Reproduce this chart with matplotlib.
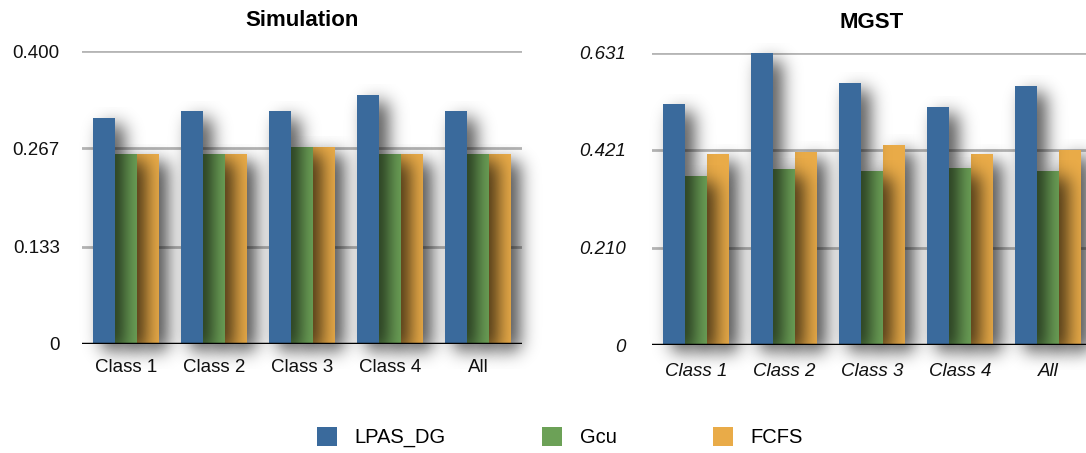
import math
import numpy as np
import matplotlib
matplotlib.use("Agg")
import matplotlib.pyplot as plt
from matplotlib.patches import Patch

plt.rcParams['font.family'] = ['Liberation Sans', 'DejaVu Sans']

# data
categories = ['Class 1', 'Class 2', 'Class 3', 'Class 4', 'All']
series = ['LPAS_DG', 'Gcu', 'FCFS']
colors = ['#3a6a9c', '#6ca157', '#e9ab48']

sim_vals = [
    [0.309, 0.318, 0.318, 0.340, 0.318],   # LPAS_DG
    [0.259, 0.259, 0.269, 0.259, 0.259],   # Gcu
    [0.259, 0.259, 0.269, 0.259, 0.259],   # FCFS
]
mgst_vals = [
    [0.520, 0.630, 0.566, 0.514, 0.559],
    [0.365, 0.380, 0.376, 0.382, 0.376],
    [0.412, 0.417, 0.432, 0.412, 0.421],
]
sim_ticks = [0, 0.133, 0.267, 0.400]
sim_ticklabels = ['0', '0.133', '0.267', '0.400']
mgst_ticks = [0, 0.210, 0.421, 0.631]
mgst_ticklabels = ['0', '0.210', '0.421', '0.631']

W, H = 1086, 453
fig = plt.figure(figsize=(W / 100, H / 100), dpi=100)

erf = np.vectorize(math.erf)


def phi(z):
    return 0.5 * (1 + erf(z / math.sqrt(2)))


def shadow(ax, left, right, top, pxx, pxy, z):
    # soft drop shadow: blurred copy of the bar shifted right and down
    dx, dy, s, a0 = 9, 7, 9, 0.72
    x = np.linspace(left - 30 * pxx, right + 45 * pxx, 90)
    y = np.linspace(-25 * pxy, top + 10 * pxy, 120)
    fx = phi((x - (left + dx * pxx)) / (s * pxx)) - phi((x - (right + dx * pxx)) / (s * pxx))
    fy = phi((y + dy * pxy) / (s * pxy)) - phi((y - (top - dy * pxy)) / (s * pxy))
    a = a0 * np.outer(fy, fx)
    img = np.zeros((len(y), len(x), 4))
    img[..., 3] = a
    ax.imshow(img[::-1], extent=(x[0], x[-1], y[0], y[-1]), aspect='auto',
              interpolation='bilinear', zorder=z, clip_on=False)


def panel(rect, vals, ymax, ticks, ticklabels, title, italic, ypad, xpad):
    ax = fig.add_axes(rect)
    ax.set_facecolor('white')
    width = 0.25
    x = np.arange(len(categories))
    pxx = 1 / 88.0
    pxy = ymax / 293.0
    for t in ticks[1:]:
        ax.axhline(t, color='#b5b5b5', lw=2, zorder=0.5)
    # draw right-most series first so each shadow falls on its neighbour
    for k in [2, 1, 0]:
        offs = (k - 1) * width
        for i, v in enumerate(vals[k]):
            shadow(ax, x[i] + offs - width / 2, x[i] + offs + width / 2, v, pxx, pxy, 2 + 2 * (2 - k))
        ax.bar(x + offs, vals[k], width, color=colors[k], zorder=3 + 2 * (2 - k), linewidth=0)
    ax.axhline(0, color='black', lw=2.5, zorder=10)
    ax.set_xlim(-0.5, len(categories) - 0.5)
    ax.set_ylim(0, ymax)
    style = 'italic' if italic else 'normal'
    ax.set_yticks(ticks)
    ax.set_yticklabels(ticklabels, fontsize=13.5, style=style, color='#111111')
    ax.set_xticks(x)
    ax.set_xticklabels(categories, fontsize=13.5, style=style, color='#111111')
    ax.tick_params(axis='y', length=0, pad=ypad)
    ax.tick_params(axis='x', length=0, pad=xpad)
    for sp in ax.spines.values():
        sp.set_visible(False)
    ax.set_title(title, fontsize=16, fontweight='bold', pad=18)
    return ax


panel([82 / W, 1 - 344 / H, 440 / W, 293 / H], sim_vals, 0.4,
      sim_ticks, sim_ticklabels, 'Simulation', False, 16, 11)
panel([652 / W, 1 - 345 / H, 440 / W, 292.5 / H], mgst_vals, 0.631,
      mgst_ticks, mgst_ticklabels, 'MGST', True, 19, 13)

handles = [Patch(facecolor=c, edgecolor='none') for c in colors]
fig.legend(handles, series, loc='center', bbox_to_anchor=(560 / W, 1 - 437 / H),
           ncol=3, frameon=False, fontsize=14.5, handlelength=1.0, handleheight=1.1,
           handletextpad=0.85, columnspacing=4.8)

fig.savefig('out.png', dpi=100)
